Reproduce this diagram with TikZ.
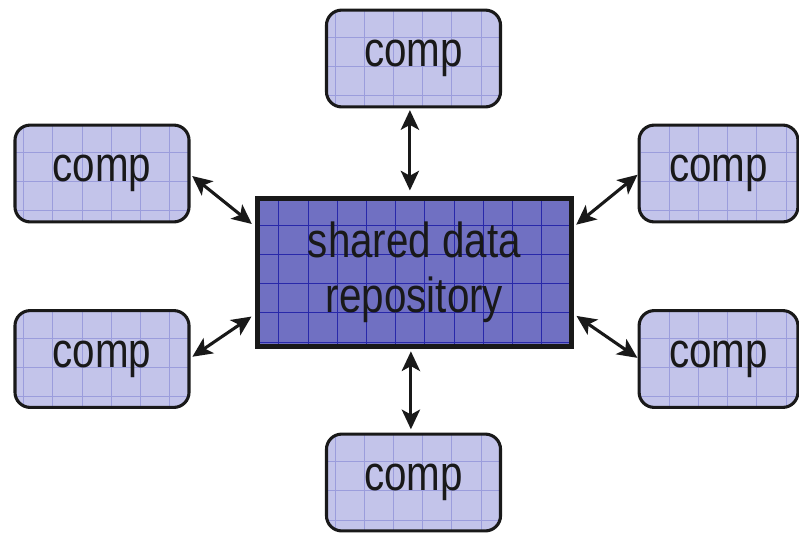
\documentclass[tikz,border=0pt]{standalone}
\usepackage{fontspec}
\setmainfont{Liberation Sans}
\usetikzlibrary{arrows.meta}

\definecolor{compfill}{RGB}{195,196,234}
\definecolor{compgrid}{RGB}{155,157,220}
\definecolor{repofill}{RGB}{112,112,194}
\definecolor{repogrid}{RGB}{40,40,170}

% condensed labels
\newcommand{\narrowtxt}[1]{\scalebox{0.82}[1]{#1}}

\begin{document}
\begin{tikzpicture}[x=0.025cm, y=-0.025cm,
  every node/.style={outer sep=0pt, font=\fontsize{35}{39}\selectfont, text=black!90},
  comp/.style={draw=black!90, line width=2.2pt, fill=compfill, rounded corners=0.38cm,
    minimum width=4.35cm, minimum height=2.42cm,
    path picture={\draw[compgrid, line width=0.5pt] (path picture bounding box.south west) grid[step=0.73cm] (path picture bounding box.north east);}},
  repo/.style={draw=black!90, line width=3pt, fill=repofill, align=center,
    minimum width=7.85cm, minimum height=3.7cm,
    path picture={\draw[repogrid, line width=0.5pt] (path picture bounding box.south west) grid[step=0.73cm] (path picture bounding box.north east);}},
  link/.style={{Stealth[length=14pt,width=13pt,inset=3.5pt]}-{Stealth[length=14pt,width=13pt,inset=3.5pt]},
    line width=2.2pt, draw=black!90}]
\useasboundingbox (0,0) rectangle (799,533);

\node[repo] (repo) at (414.5,272.5) {\narrowtxt{shared data}\\\narrowtxt{repository}};

\node[comp] (top) at (413.5,58.5) {\narrowtxt{comp}};
\node[comp] (bot) at (413.5,482.5) {\narrowtxt{comp}};
\node[comp] (lt) at (102,173.5) {\narrowtxt{comp}};
\node[comp] (lb) at (102,359) {\narrowtxt{comp}};
\node[comp, minimum width=3.97cm] (rt) at (718.5,173.5) {\narrowtxt{comp}};
\node[comp, minimum width=3.97cm] (rb) at (718.5,359) {\narrowtxt{comp}};

\draw[link, shorten <=0.08cm, shorten >=0.2cm] ([xshift=-0.09cm]top.south) -- ([xshift=-0.09cm]top.south |- repo.north);
\draw[link, shorten <=0.12cm, shorten >=0.12cm] ([xshift=-0.09cm]repo.south) -- ([xshift=-0.09cm]repo.south |- bot.north);
\draw[link, shorten <=0.1cm, shorten >=0.18cm] (lt.east) -- ([yshift=1.1cm]repo.west);
\draw[link, shorten <=0.1cm, shorten >=0.18cm] (lb.east) -- ([yshift=-1.0cm]repo.west);
\draw[link, shorten <=0.15cm, shorten >=0.05cm] ([yshift=1.1cm]repo.east) -- (rt.west);
\draw[link, shorten <=0.15cm, shorten >=0.05cm] ([yshift=-1.0cm]repo.east) -- (rb.west);
\end{tikzpicture}
\end{document}
